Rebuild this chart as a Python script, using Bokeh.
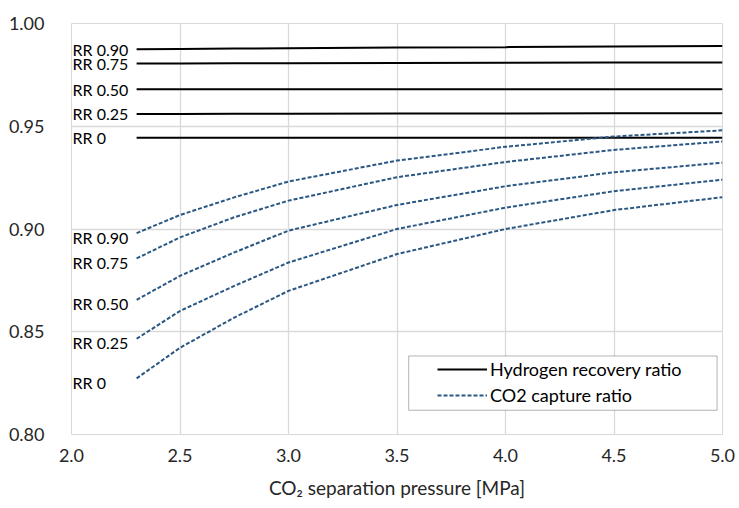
from bokeh.plotting import figure
from bokeh.models import (ColumnDataSource, FixedTicker, NumeralTickFormatter, Legend,
                          LegendItem, Range1d, BoxAnnotation)
from bokeh.core.properties import value
from bokeh.embed import file_html
from bokeh.resources import INLINE

# ---------------- data ----------------
pressure = [2.3, 2.5, 2.75, 3.0, 3.5, 4.0, 4.5, 5.0]

h2_rr090 = [0.9875, 0.9876, 0.9878, 0.9880, 0.9883, 0.9885, 0.9888, 0.9890]
h2_rr075 = [0.9805, 0.9805, 0.9806, 0.9807, 0.9808, 0.9809, 0.9810, 0.9810]
h2_rr050 = [0.9680, 0.9680, 0.9680, 0.9680, 0.9680, 0.9680, 0.9680, 0.9680]
h2_rr025 = [0.9560, 0.9560, 0.9561, 0.9561, 0.9562, 0.9562, 0.9563, 0.9563]
h2_rr000 = [0.9444, 0.9444, 0.9444, 0.9444, 0.9444, 0.9444, 0.9444, 0.9444]

co2_rr090 = [0.8980, 0.9068, 0.9154, 0.9231, 0.9333, 0.9400, 0.9450, 0.9480]
co2_rr075 = [0.8857, 0.8959, 0.9057, 0.9138, 0.9252, 0.9326, 0.9385, 0.9426]
co2_rr050 = [0.8655, 0.8772, 0.8886, 0.8992, 0.9117, 0.9208, 0.9276, 0.9323]
co2_rr025 = [0.8466, 0.8601, 0.8723, 0.8837, 0.9000, 0.9104, 0.9184, 0.9240]
co2_rr000 = [0.8273, 0.8422, 0.8569, 0.8699, 0.8878, 0.9000, 0.9092, 0.9155]

rr_labels = ["RR 0.90", "RR 0.75", "RR 0.50", "RR 0.25", "RR 0"]
x_ticks = [2.0, 2.5, 3.0, 3.5, 4.0, 4.5, 5.0]
y_ticks = [0.80, 0.85, 0.90, 0.95, 1.00]
legend_labels = ["Hydrogen recovery ratio", "CO2 capture ratio"]

h2_series = [h2_rr090, h2_rr075, h2_rr050, h2_rr025, h2_rr000]
co2_series = [co2_rr090, co2_rr075, co2_rr050, co2_rr025, co2_rr000]

FONT = "Lato"
TXT = "#262626"
BLUE = "#2b5783"
GRID = "#d9d9d9"

p = figure(width=739, height=508, output_backend="svg", toolbar_location=None,
           x_range=Range1d(2.0, 5.0), y_range=Range1d(0.80, 1.00),
           min_border_left=71, min_border_right=17, min_border_top=23, min_border_bottom=74)

p.outline_line_color = GRID
p.outline_line_width = 1
p.background_fill_color = "white"
p.border_fill_color = "white"

for g in (p.xgrid[0], p.ygrid[0]):
    g.grid_line_color = GRID
    g.grid_line_width = 1.3

p.xaxis.ticker = FixedTicker(ticks=x_ticks)
p.yaxis.ticker = FixedTicker(ticks=y_ticks)
p.xaxis.formatter = NumeralTickFormatter(format="0.0")
p.yaxis.formatter = NumeralTickFormatter(format="0.00")
for ax in (p.xaxis[0], p.yaxis[0]):
    ax.axis_line_color = None
    ax.major_tick_line_color = None
    ax.minor_tick_line_color = None
    ax.major_label_text_font = FONT
    ax.major_label_text_font_size = "18px"
    ax.major_label_text_color = TXT
p.yaxis.major_label_standoff = 21
p.xaxis.major_label_standoff = 8
p.xaxis.axis_label = "CO\u2082 separation pressure [MPa]"
p.xaxis.axis_label_text_font = FONT
p.xaxis.axis_label_text_font_size = "19px"
p.xaxis.axis_label_text_font_style = "normal"
p.xaxis.axis_label_text_color = TXT
p.xaxis.axis_label_standoff = 11

h2_renderers = []
for ys in h2_series:
    r = p.line(pressure, ys, line_color="black", line_width=2)
    h2_renderers.append(r)

co2_renderers = []
for ys in co2_series:
    r = p.line(pressure, ys, line_color=BLUE, line_width=2, line_dash="4 2")
    co2_renderers.append(r)

# curve labels
h2_lab = ColumnDataSource(dict(x=[x_ticks[0]] * len(rr_labels),
                               y=[s[0] for s in h2_series], t=rr_labels))
co2_lab = ColumnDataSource(dict(x=[x_ticks[0]] * len(rr_labels),
                                y=[s[0] for s in co2_series], t=rr_labels))
p.text(x="x", y="y", text="t", source=h2_lab, x_offset=1, y_offset=0,
       text_font=value(FONT), text_font_size="16px", text_color="black",
       text_baseline="middle", text_align="left")
p.text(x="x", y="y", text="t", source=co2_lab, x_offset=1, y_offset=4,
       text_font=value(FONT), text_font_size="16px", text_color="black",
       text_baseline="middle", text_align="left")

# legend frame
box = BoxAnnotation(left=3.554, right=4.975, bottom=0.8118, top=0.8382,
                    fill_color="white", fill_alpha=1.0,
                    line_color="black", line_width=1)
p.add_layout(box)

legend = Legend(items=[LegendItem(label=legend_labels[0], renderers=[h2_renderers[0]]),
                       LegendItem(label=legend_labels[1], renderers=[co2_renderers[0]])],
                location=(366, 28))
legend.border_line_color = None
legend.background_fill_alpha = 0
legend.padding = 0
legend.spacing = 4
legend.glyph_width = 50
legend.glyph_height = 22
legend.label_height = 22
legend.label_standoff = 3
legend.label_text_font = FONT
legend.label_text_font_size = "18px"
legend.label_text_color = "black"
p.add_layout(legend)

open("out.html", "w").write(file_html(p, INLINE))
